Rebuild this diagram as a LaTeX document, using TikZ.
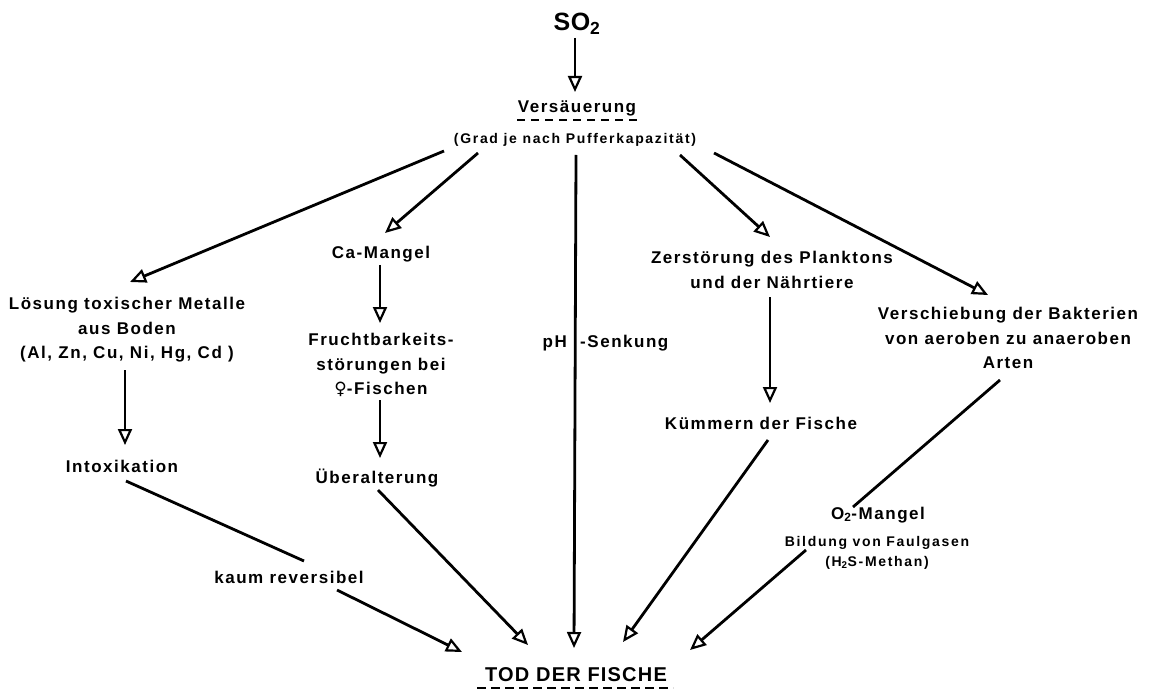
\documentclass[tikz,border=0pt]{standalone}
\usepackage{fontspec}
\usetikzlibrary{arrows.meta,calc}
\newfontfamily\letta[LetterSpace=9]{Liberation Sans}
\newfontfamily\lettb[LetterSpace=12]{Liberation Sans}
\newfontfamily\lettc[LetterSpace=6]{Liberation Sans}
\newfontfamily\lettd[LetterSpace=2]{Liberation Sans}
\newfontfamily\symf{DejaVu Sans}
\begin{document}
\begin{tikzpicture}[x=1pt,y=-1pt,
  txt/.style={font=\letta\bfseries\fontsize{17}{24.5}\selectfont, align=center, inner sep=0pt},
  smalltxt/.style={font=\lettb\bfseries\fontsize{14}{20}\selectfont, align=center, inner sep=0pt},
  todtxt/.style={font=\lettc\bfseries\fontsize{20}{24}\selectfont, align=center, inner sep=0pt},
  bigtxt/.style={font=\lettd\bfseries\fontsize{25}{30}\selectfont, align=center, inner sep=0pt},
  conn/.style={line width=2.8pt},
  arr/.style={line width=2.8pt, -{Triangle[open,length=16pt,width=14pt,line width=2.2pt]}},
  dashline/.style={line width=2pt, dash pattern=on 8pt off 6pt}
]
\useasboundingbox (0,0) rectangle (1155,692);

\node[bigtxt] (so2) at (577,24) {SO\textsubscript{2}};
\node[txt] (vers) at (577,108) {Versäuerung};
\node[smalltxt] (grad) at (575,140) {(Grad je nach Pufferkapazität)};
\node[txt] (loes) at (127,330) {Lösung toxischer Metalle\\aus Boden\\(Al, Zn, Cu, Ni, Hg, Cd )};
\node[txt] (ca) at (381,254) {Ca-Mangel};
\node[txt] (frucht) at (381,365) {Fruchtbarkeits-\\störungen bei\\{\symf\bfseries ♀}-Fischen};
\node[txt] (ueber) at (377,478) {Überalterung};
\node[txt, anchor=east] (ph) at (567,343) {pH};
\node[txt, anchor=west] (senk) at (580,343) {-Senkung};
\node[txt] (zerst) at (772,270) {Zerstörung des Planktons\\und der Nährtiere};
\node[txt] (kuemm) at (761,423) {Kümmern der Fische};
\node[txt] (versch) at (1008,338) {Verschiebung der Bakterien\\von aeroben zu anaeroben\\Arten};
\node[txt] (intox) at (122,466) {Intoxikation};
\node[txt] (kaum) at (289,577) {kaum reversibel};
\node[txt] (o2) at (878,515) {O\textsubscript{2}-Mangel};
\node[smalltxt] (bild) at (877,553) {Bildung von Faulgasen\\(H\textsubscript{2}S-Methan)};
\node[todtxt] (tod) at (576,675) {TOD DER FISCHE};

% underlines
\draw[dashline] ($(vers)+(-60,12)$) -- ($(vers)+(63,12)$);
\draw[dashline, dash pattern=on 9pt off 5pt] ($(tod)+(-99,13)$) -- ($(tod)+(97,13)$);

% connectors
\draw[arr] ($(so2)+(-2,14)$) -- ($(vers)+(-2,-16)$);
\draw[arr] ($(grad)+(-131,11)$) -- ($(loes)+(3,-48)$);
\draw[arr] ($(grad)+(-97,13)$) -- ($(ca)+(4,-21)$);
\draw[arr] ($(grad)+(1,15)$) -- ($(tod)+(-2,-27)$);
\draw[arr] ($(grad)+(105,15)$) -- ($(zerst)+(-2,-33)$);
\draw[arr] ($(grad)+(139,13)$) -- ($(versch)+(-20,-43)$);
\draw[arr] ($(ca)+(-1,11)$) -- ($(frucht)+(-1,-42)$);
\draw[arr] ($(frucht)+(-1,35)$) -- ($(ueber)+(3,-20)$);
\draw[arr] ($(loes)+(-2,40)$) -- ($(intox)+(3,-21)$);
\draw[conn] ($(intox)+(4,15)$) -- ($(kaum)+(15,-16)$);
\draw[arr] ($(kaum)+(48,13)$) -- ($(tod)+(-114,-23)$);
\draw[arr] ($(ueber)+(1,12)$) -- ($(tod)+(-48,-30)$);
\draw[arr] ($(zerst)+(-2,27)$) -- ($(kuemm)+(9,-20)$);
\draw[arr] ($(kuemm)+(7,17)$) -- ($(tod)+(47,-33)$);
\draw[conn] ($(versch)+(-8,42)$) -- ($(o2)+(-25,-8)$);
\draw[arr] ($(bild)+(-71,-3)$) -- ($(tod)+(114,-25)$);
\end{tikzpicture}
\end{document}
